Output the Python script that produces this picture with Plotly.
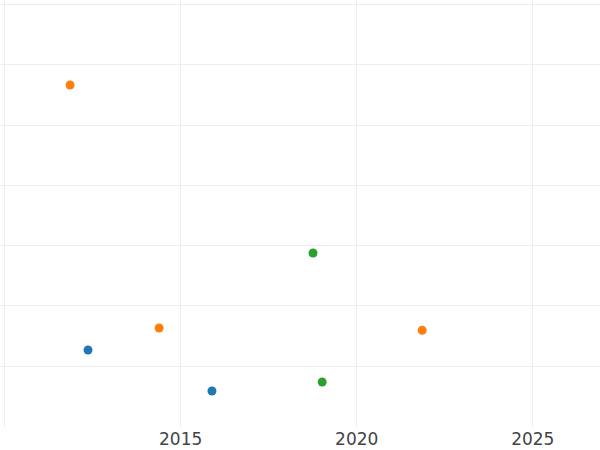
import plotly.graph_objects as go

# Data (x in decimal years, y in arbitrary units)
blue_x = [2012.37, 2015.89]
blue_y = [12.70, 5.90]
orange_x = [2011.86, 2014.39, 2021.86]
orange_y = [56.65, 16.35, 15.97]
green_x = [2018.76, 2019.02]
green_y = [28.79, 7.40]

x_ticks = [2010, 2015, 2020, 2025]
x_tick_labels = ["", "2015", "2020", "2025"]

fig = go.Figure()
for xs, ys, col, name in [
    (blue_x, blue_y, "#1f77b4", "A"),
    (orange_x, orange_y, "#ff7f0e", "B"),
    (green_x, green_y, "#2ca02c", "C"),
]:
    fig.add_trace(go.Scatter(x=xs, y=ys, mode="markers", name=name,
                             marker=dict(color=col, size=9)))

fig.update_layout(
    template="none",
    width=600, height=450,
    margin=dict(l=0, r=0, t=0, b=23),
    showlegend=False,
    paper_bgcolor="white", plot_bgcolor="white",
    font=dict(family="DejaVu Sans", size=17, color="#444"),
)
fig.update_xaxes(range=[2009.87, 2026.91], tickvals=x_ticks, ticktext=x_tick_labels,
                 showgrid=True, gridcolor="#eee", zeroline=False, showline=False,
                 ticks="")
fig.update_yaxes(range=[-0.07, 70.75], dtick=10, tick0=0, showticklabels=False,
                 showgrid=True, gridcolor="#eee", zeroline=False, showline=False,
                 ticks="")

fig.write_html("out.html", config={"displayModeBar": False},
               post_script="document.body.style.margin='0';document.body.style.overflow='hidden';")
